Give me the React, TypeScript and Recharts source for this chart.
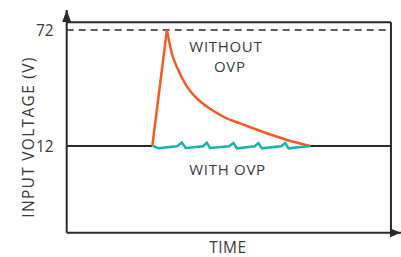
import React from "react";
import {
  LineChart,
  Line,
  XAxis,
  YAxis,
  ReferenceLine,
  ReferenceDot,
  Label,
} from "recharts";

// baseline supply voltage (black), before and after the transient
const baseBeforeT = [0, 26.4];
const baseBeforeV = [12, 12];
const baseAfterT = [75.1, 100];
const baseAfterV = [12, 12];

// transient without OVP (orange): rising edge, then decay
const riseT = [26.4, 30.9];
const riseV = [12, 72];
const decayT = [30.9, 32.4, 34.4, 36.8, 39.6, 44.8, 49.0, 53.5, 61.7, 69.9, 75.1];
const decayV = [72, 60, 51.3, 43.5, 37.5, 30.6, 26.6, 23.7, 18.6, 14.2, 12];

// clamped output with OVP (teal ripple)
const withOvpT = [
  26.7, 28.3, 34.0, 35.5, 36.7, 42.1, 43.2, 44.2, 50.1, 51.4, 52.5, 58.0, 59.1,
  60.2, 66.1, 67.4, 68.4, 75.1,
];
const withOvpV = [
  12, 10.8, 11.9, 13.8, 11.0, 11.9, 13.7, 11.0, 11.9, 13.5, 10.8, 11.9, 13.5,
  10.8, 11.9, 13.5, 10.8, 12,
];

const yTicks = [12, 72];
const clampLevel = 72;
const boxTop = 76;
const tMax = 100;
const yDomain: [number, number] = [-32.85, 82.35];
const xDomain: [number, number] = [0, 103.1];

const zip = (t: number[], v: number[]) => t.map((x, i) => ({ t: x, v: v[i] }));

const ink = "#2a2a2a";
const textColor = "#3a3a3a";
const orange = "#f25c23";
const teal = "#19b2ab";
const font = "'Open Sans', sans-serif";

const textStyle = { fontSize: 15.5, fill: textColor, fontFamily: font };
const labelStyle = { ...textStyle, letterSpacing: 0.5 };
const noteStyle = { ...textStyle, fontSize: 15, letterSpacing: 0.7 };

const textShape = (value: string) => (p: any) => (
  <text x={p.cx} y={p.cy} textAnchor="middle" {...noteStyle}>
    {value}
  </text>
);

export default function App() {
  return (
    <div style={{ position: "absolute", left: 0, top: 0, background: "#fff" }}>
      <LineChart
        width={401}
        height={257}
        margin={{ top: 10, right: 0, bottom: 0, left: 0 }}
        style={{ fontFamily: font }}
      >
        <XAxis
          type="number"
          dataKey="t"
          domain={xDomain}
          allowDataOverflow
          tick={false}
          tickLine={false}
          height={24.3}
          axisLine={{ stroke: ink, strokeWidth: 2 }}
        >
          <Label
            value="TIME"
            position="insideBottom"
            offset={3.7}
            dx={-6}
            style={labelStyle}
          />
        </XAxis>
        <YAxis
          type="number"
          dataKey="v"
          domain={yDomain}
          allowDataOverflow
          ticks={yTicks}
          tickLine={false}
          tickSize={0}
          tickMargin={13}
          width={66.7}
          tick={textStyle}
          axisLine={{ stroke: ink, strokeWidth: 2 }}
        >
          <Label
            content={() => (
              <text
                x={34}
                y={137}
                transform="rotate(-90 34 137)"
                textAnchor="middle"
                {...textStyle}
                letterSpacing={1.3}
              >
                INPUT VOLTAGE (V)
              </text>
            )}
          />
        </YAxis>

        <ReferenceLine
          segment={[
            { x: 0, y: boxTop },
            { x: tMax, y: boxTop },
          ]}
          stroke={ink}
          strokeWidth={2}
          ifOverflow="visible"
        />
        <ReferenceLine
          segment={[
            { x: tMax, y: yDomain[0] },
            { x: tMax, y: boxTop },
          ]}
          stroke={ink}
          strokeWidth={2}
          ifOverflow="visible"
        />
        <ReferenceLine
          segment={[
            { x: 0, y: clampLevel },
            { x: tMax, y: clampLevel },
          ]}
          stroke={ink}
          strokeWidth={1.3}
          strokeDasharray="7 5"
          ifOverflow="visible"
        />

        <Line data={zip(baseBeforeT, baseBeforeV)} dataKey="v" type="linear" stroke={ink} strokeWidth={2} dot={false} isAnimationActive={false} />
        <Line data={zip(baseAfterT, baseAfterV)} dataKey="v" type="linear" stroke={ink} strokeWidth={2} dot={false} isAnimationActive={false} />
        <Line data={zip(riseT, riseV)} dataKey="v" type="linear" stroke={orange} strokeWidth={2.5} dot={false} isAnimationActive={false} />
        <Line data={zip(decayT, decayV)} dataKey="v" type="monotone" stroke={orange} strokeWidth={2.5} dot={false} isAnimationActive={false} />
        <Line data={zip(withOvpT, withOvpV)} dataKey="v" type="linear" stroke={teal} strokeWidth={2.5} dot={false} isAnimationActive={false} />

        {/* axis arrows */}
        <ReferenceDot
          x={0}
          y={yDomain[1]}
          ifOverflow="visible"
          shape={(p: any) => (
            <polygon
              points={`${p.cx},${p.cy} ${p.cx - 4.5},${p.cy + 12} ${p.cx + 4.5},${p.cy + 12}`}
              fill={ink}
            />
          )}
        />
        <ReferenceDot
          x={xDomain[1]}
          y={yDomain[0]}
          ifOverflow="visible"
          shape={(p: any) => (
            <polygon
              points={`${p.cx},${p.cy} ${p.cx - 11},${p.cy - 4.5} ${p.cx - 11},${p.cy + 4.5}`}
              fill={ink}
            />
          )}
        />

        {/* annotations */}
        <ReferenceDot x={49.1} y={60.7} ifOverflow="visible" shape={textShape("WITHOUT")} />
        <ReferenceDot x={50.3} y={50.2} ifOverflow="visible" shape={textShape("OVP")} />
        <ReferenceDot x={49.6} y={-3} ifOverflow="visible" shape={textShape("WITH OVP")} />
      </LineChart>
    </div>
  );
}
